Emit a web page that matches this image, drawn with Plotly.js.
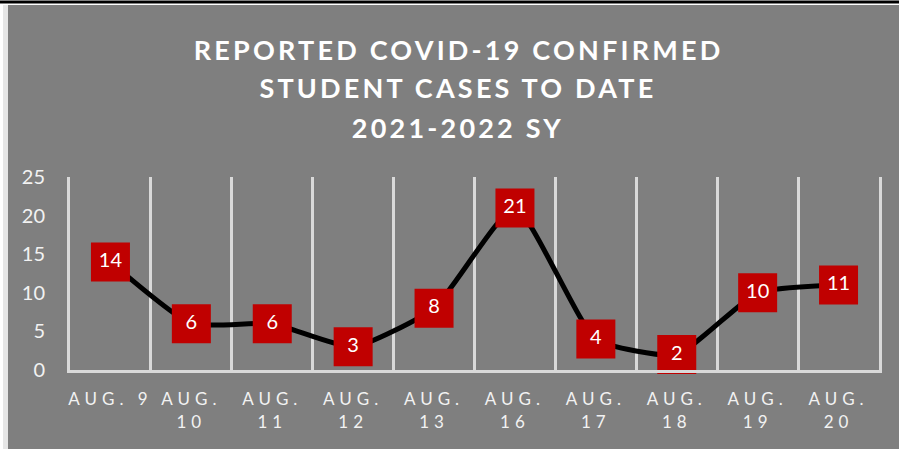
<!DOCTYPE html>
<html>
<head>
<meta charset="utf-8">
<script src="https://cdn.plot.ly/plotly-3.0.1.min.js"></script>
<style>
  html, body { margin: 0; padding: 0; background: #ffffff; }
  #chart { width: 899px; height: 449px; }
  #chart .annotation-text { letter-spacing: 3.2px; }
  #chart .xtick text { letter-spacing: 5px; }
</style>
</head>
<body>
<div id="chart"></div>
<script>
const categories = ["AUG. 9", "AUG.<br>10", "AUG.<br>11", "AUG.<br>12", "AUG.<br>13",
                    "AUG.<br>16", "AUG.<br>17", "AUG.<br>18", "AUG.<br>19", "AUG.<br>20"];
const cases = [14, 6, 6, 3, 8, 21, 4, 2, 10, 11];
const titleLines = ["REPORTED COVID-19 CONFIRMED", "STUDENT CASES TO DATE", "2021-2022 SY"];

const W = 899, H = 449;
const margin = {l: 70, r: 20, t: 177, b: 79};
const plotW = W - margin.l - margin.r, plotH = H - margin.t - margin.b;
const px = x => (x - margin.l) / plotW;
const py = y => (H - margin.b - y) / plotH;

const FONT = "Lato, 'Open Sans', sans-serif";

const trace = {
  x: categories,
  y: cases,
  type: "scatter",
  mode: "lines+markers+text",
  line: {color: "#000000", width: 5, shape: "spline", smoothing: 0.5},
  marker: {symbol: "square", size: 39, color: "#c00000", line: {width: 0}},
  text: cases.map(String),
  textposition: "middle center",
  textfont: {family: FONT, size: 20, color: "#ffffff"},
  cliponaxis: false,
  hoverinfo: "skip"
};

const titleY = [49, 88, 127];
const annotations = titleLines.map((t, i) => ({
  text: t, xref: "paper", yref: "paper", x: px(458), y: py(titleY[i]),
  xanchor: "center", yanchor: "middle", showarrow: false,
  font: {family: FONT, size: 27, color: "#ffffff", weight: "bold"}
}));

const layout = {
  width: W, height: H,
  margin: margin,
  paper_bgcolor: "#7f7f7f",
  plot_bgcolor: "#7f7f7f",
  showlegend: false,
  xaxis: {
    type: "category",
    range: [-0.5, categories.length - 0.5],
    tickson: "boundaries",
    ticks: "",
    showgrid: true, gridcolor: "#d9d9d9", gridwidth: 3,
    showline: true, linecolor: "#d9d9d9", linewidth: 3,
    zeroline: false,
    ticklabelstandoff: 12,
    tickfont: {family: FONT, size: 17, color: "#f2f2f2"},
    fixedrange: true
  },
  yaxis: {
    range: [0, 25],
    dtick: 5,
    showgrid: false, zeroline: false,
    showline: true, mirror: true, linecolor: "#d9d9d9", linewidth: 3,
    ticks: "",
    ticklabelstandoff: 18,
    tickfont: {family: FONT, size: 20, color: "#f2f2f2"},
    fixedrange: true
  },
  annotations: annotations,
  shapes: [
    {type: "rect", xref: "paper", yref: "paper", x0: px(0), x1: px(8), y0: py(H), y1: py(0),
     fillcolor: "#e6e6e6", line: {width: 0}, layer: "below"},
    {type: "rect", xref: "paper", yref: "paper", x0: px(0), x1: px(3), y0: py(H), y1: py(0),
     fillcolor: "#ffffff", line: {width: 0}, layer: "below"},
    {type: "rect", xref: "paper", yref: "paper", x0: px(0), x1: px(W), y0: py(5), y1: py(0),
     fillcolor: "#ffffff", line: {width: 0}, layer: "below"},
    {type: "rect", xref: "paper", yref: "paper", x0: px(0), x1: px(W), y0: py(3.5), y1: py(0.5),
     fillcolor: "#000000", line: {width: 0}, layer: "below"}
  ]
};

Plotly.newPlot("chart", [trace], layout, {displayModeBar: false, staticPlot: true});
</script>
</body>
</html>
